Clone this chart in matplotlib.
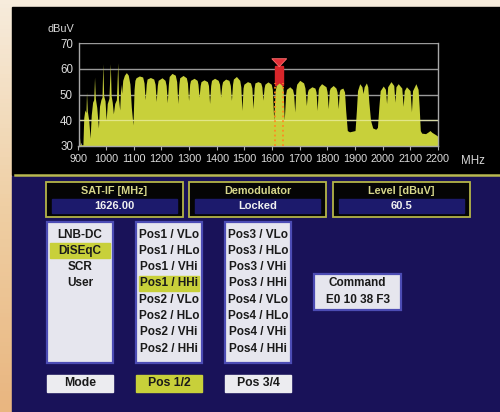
import numpy as np
import matplotlib.pyplot as plt
from matplotlib.patches import Rectangle, Polygon
from matplotlib.colors import LinearSegmentedColormap

# spectrum envelope (MHz, dBuV)
freq_mhz = [
    900, 903, 906, 916, 919, 923, 927, 929, 932, 937, 942, 946, 951, 955, 958, 961,
    966, 972, 976, 981, 985, 988, 991, 996, 1000, 1004, 1010, 1015, 1018, 1022, 1026,
    1031, 1037, 1042, 1045, 1049, 1053, 1056, 1060, 1066, 1073, 1080, 1086, 1091, 1097,
    1101, 1104, 1108, 1120, 1132, 1137, 1141, 1145, 1148, 1160, 1172, 1177, 1181, 1185,
    1188, 1202, 1213, 1217, 1221, 1225, 1228, 1238, 1250, 1255, 1259, 1263, 1266, 1278,
    1290, 1294, 1298, 1302, 1305, 1318, 1329, 1332, 1336, 1340, 1343, 1354, 1366, 1370,
    1374, 1378, 1381, 1392, 1405, 1410, 1414, 1418, 1421, 1432, 1444, 1449, 1453, 1457,
    1460, 1471, 1483, 1487, 1491, 1495, 1498, 1511, 1522, 1527, 1531, 1535, 1538, 1549,
    1559, 1563, 1567, 1571, 1574, 1585, 1597, 1601, 1606, 1611, 1615, 1626, 1636, 1640,
    1644, 1649, 1652, 1664, 1674, 1678, 1682, 1686, 1689, 1700, 1714, 1719, 1724, 1728,
    1731, 1744, 1755, 1759, 1763, 1767, 1770, 1779, 1795, 1799, 1803, 1807, 1810, 1821,
    1831, 1835, 1839, 1843, 1846, 1856, 1862, 1866, 1872, 1880, 1892, 1900, 1905, 1909,
    1917, 1925, 1929, 1933, 1941, 1946, 1950, 1956, 1964, 1975, 1981, 1986, 1991, 2002,
    2010, 2014, 2018, 2030, 2040, 2044, 2048, 2056, 2069, 2074, 2078, 2086, 2099, 2104,
    2108, 2120, 2128, 2132, 2136, 2141, 2155, 2165, 2171, 2178, 2190, 2197, 2200,
]
level_dbuv = [
    33.5, 34.0, 30.5, 30.5, 41.0, 44.0, 43.0, 51.0, 43.5, 40.0, 33.0, 42.0, 47.0, 48.0, 56.8, 48.5,
    45.0, 37.0, 45.5, 48.0, 49.0, 62.0, 49.5, 47.5, 40.0, 46.5, 48.5, 62.0, 49.5, 47.0, 42.5,
    46.5, 48.0, 62.4, 48.0, 44.0, 54.0, 50.5, 55.5, 57.5, 58.5, 57.5, 54.0, 45.0, 38.2,
    52.0, 55.5, 56.5, 57.2, 56.8, 54.5, 48.0, 54.0, 56.0, 56.6, 56.0, 54.0, 47.3, 53.5,
    55.5, 56.5, 55.5, 53.5, 46.8, 54.0, 57.0, 58.2, 57.5, 55.0, 46.5, 54.0, 56.5, 57.4,
    56.5, 54.5, 47.7, 54.0, 55.5, 56.3, 55.5, 54.0, 49.0, 53.5, 55.0, 55.7, 55.0, 53.5,
    46.5, 53.5, 55.5, 56.3, 55.5, 54.0, 49.0, 53.5, 55.0, 56.0, 55.5, 53.5, 47.7, 54.0,
    56.0, 57.0, 55.5, 53.0, 43.8, 52.5, 54.0, 55.0, 54.5, 52.5, 44.5, 52.5, 54.5, 55.0,
    54.5, 53.0, 47.8, 52.5, 54.0, 54.9, 54.0, 52.0, 40.0, 51.5, 53.5, 54.5, 53.5, 52.0,
    40.0, 50.0, 52.0, 53.0, 52.0, 50.0, 43.2, 52.0, 54.0, 55.5, 54.5, 52.5, 45.7, 51.0,
    52.0, 53.0, 52.5, 51.0, 43.8, 52.0, 53.0, 54.2, 53.0, 51.0, 44.5, 51.5, 52.5, 53.5,
    52.5, 51.0, 44.5, 51.0, 52.0, 52.5, 51.0, 44.0, 36.0, 35.5, 35.8, 36.0, 44.0, 51.5,
    54.2, 53.0, 50.4, 53.0, 54.5, 53.0, 47.0, 40.0, 37.0, 36.5, 37.2, 45.0, 51.5, 53.3,
    52.0, 46.5, 53.0, 55.0, 53.5, 47.0, 53.0, 54.2, 52.5, 45.4, 51.5, 53.0, 51.5, 43.3,
    51.5, 54.2, 52.0, 45.0, 36.0, 35.0, 34.8, 35.5, 36.0, 35.3, 34.5, 34.0, 33.5,
]

x_ticks = [900, 1000, 1100, 1200, 1300, 1400, 1500, 1600, 1700, 1800, 1900, 2000, 2100, 2200]
y_ticks = [30, 40, 50, 60, 70]

marker_freq = 1626.0   # SAT-IF
marker_level = 60.5    # dBuV
marker_bw = 30.0

header_titles = ['SAT-IF [MHz]', 'Demodulator', 'Level [dBuV]']
header_values = ['1626.00', 'Locked', '60.5']
mode_items = ['LNB-DC', 'DiSEqC', 'SCR', 'User']
pos12_items = ['Pos1 / VLo', 'Pos1 / HLo', 'Pos1 / VHi', 'Pos1 / HHi',
               'Pos2 / VLo', 'Pos2 / HLo', 'Pos2 / VHi', 'Pos2 / HHi']
pos34_items = ['Pos3 / VLo', 'Pos3 / HLo', 'Pos3 / VHi', 'Pos3 / HHi',
               'Pos4 / VLo', 'Pos4 / HLo', 'Pos4 / VHi', 'Pos4 / HHi']
command_lines = ['Command', 'E0 10 38 F3']
buttons = ['Mode', 'Pos 1/2', 'Pos 3/4']

FAM = ['Liberation Sans Narrow', 'Liberation Sans', 'DejaVu Sans']
YELLOW = '#c8d03a'
NAVY = '#191259'
BOX = '#e6e6ee'
BLUE_EDGE = '#4c4cb4'
GOLD_EDGE = '#b5b548'

fig = plt.figure(figsize=(5, 4.12), dpi=100)

# background in pixel coords
bg = fig.add_axes([0, 0, 1, 1])
grad = np.linspace(0, 1, 100).reshape(-1, 1)
cm = LinearSegmentedColormap.from_list('edge', ['#f7ecdc', '#efcfa4', '#e9b680'])
bg.imshow(grad, cmap=cm, extent=(0, 500, 412, 0), aspect='auto')
bg.add_patch(Rectangle((12, 7), 488, 168, color='black'))
bg.add_patch(Rectangle((12, 176), 488, 236, color=NAVY))
bg.plot([15, 500], [175, 175], color='#b8b850', lw=1.8)
bg.set_xlim(0, 500)
bg.set_ylim(412, 0)
bg.axis('off')

bg.text(47, 29, 'dBuV', color='#d8d8d8', fontsize=7.8, family=FAM, va='center')
bg.text(461, 161, 'MHz', color='#d8d8d8', fontsize=8.3, family=FAM, va='center')

# header boxes
hx = [46, 189, 333]
for x0, title, val in zip(hx, header_titles, header_values):
    bg.add_patch(Rectangle((x0, 182), 137, 35, facecolor='#050505', edgecolor=GOLD_EDGE, lw=1.3))
    bg.add_patch(Rectangle((x0 + 6, 199), 125, 14, color='#1c1a6c'))
    bg.text(x0 + 68.5, 191, title, color='#d6d68a', fontsize=7.8, family=FAM,
            weight='bold', ha='center', va='center')
    bg.text(x0 + 68.5, 205.5, val, color='#f0f0f0', fontsize=8, family=FAM,
            weight='bold', ha='center', va='center')


def list_box(x0, items, hl):
    bg.add_patch(Rectangle((x0, 222), 66, 141, facecolor=BOX, edgecolor=BLUE_EDGE, lw=1.6))
    for i, s in enumerate(items):
        yc = 234.5 + i * 16.3
        if i == hl:
            bg.add_patch(Rectangle((x0 + 3, yc - 7.5), 60, 15, color=YELLOW))
        bg.text(x0 + 33, yc, s, color='#1a1a1a', fontsize=8.5, family=FAM,
                weight='bold', ha='center', va='center')


list_box(47, mode_items, 1)
list_box(136, pos12_items, 3)
list_box(225, pos34_items, -1)

bg.add_patch(Rectangle((314, 274), 87, 36, facecolor=BOX, edgecolor=BLUE_EDGE, lw=1.6))
bg.text(357.5, 283.5, command_lines[0], color='#1a1a1a', fontsize=8.5, family=FAM,
        weight='bold', ha='center', va='center')
bg.text(357.5, 300, command_lines[1], color='#1a1a1a', fontsize=8.5, family=FAM,
        weight='bold', ha='center', va='center')

for x0, lab in zip([47, 136, 225], buttons):
    fc = YELLOW if lab == 'Pos 1/2' else '#ececf0'
    bg.add_patch(Rectangle((x0, 375), 66, 17, color=fc))
    bg.text(x0 + 33, 383.5, lab, color='#1a1a1a', fontsize=8.8, family=FAM,
            weight='bold', ha='center', va='center')

# spectrum
ax = fig.add_axes([78.5 / 500, 1 - 146 / 412, 359.5 / 500, 103 / 412])
ax.patch.set_alpha(0)
ax.set_xlim(900, 2200)
ax.set_ylim(30, 70)
for y in y_ticks[1:]:
    ax.axhline(y, color='#9a9a9a', lw=1.0, zorder=0.5)
ax.add_patch(Rectangle((marker_freq - marker_bw / 2, 53.5), marker_bw,
                       marker_level + 0.4 - 53.5, color='#d8262a', zorder=1))
ax.fill_between(freq_mhz, 30, level_dbuv, color=YELLOW, lw=0, zorder=2)
ax.axhline(40, color='#eef0a8', lw=0.9, alpha=0.7, zorder=2.5)
ax.vlines([marker_freq - marker_bw / 2, marker_freq + marker_bw / 2], 30, 54.5,
          colors='#ff8a20', linestyles=':', lw=1.3, zorder=3)
ax.add_patch(Polygon([(marker_freq - 27, marker_level + 3.4), (marker_freq + 27, marker_level + 3.4),
                      (marker_freq, marker_level + 0.3)], closed=True,
                     facecolor='#e23038', edgecolor='#ff7070', lw=0.6, zorder=4, clip_on=False))

for side in ['left', 'right', 'bottom']:
    ax.spines[side].set_color('#a8a8a8')
    ax.spines[side].set_linewidth(1.0)
ax.spines['top'].set_visible(False)

ax.set_xticks(x_ticks)
ax.set_xticks(np.arange(900, 2201, 10), minor=True)
ax.set_yticks(y_ticks)
ax.tick_params(axis='x', which='major', colors='#b0b0b0', length=3, width=0.8,
               labelcolor='#dcdcdc', labelsize=7.8, pad=3)
ax.tick_params(axis='x', which='minor', colors='#c0c0c0', length=2, width=0.5, direction='in')
ax.tick_params(axis='y', colors='#b0b0b0', length=0, labelcolor='#dcdcdc', labelsize=8.3, pad=4)
for lab in ax.get_xticklabels() + ax.get_yticklabels():
    lab.set_family(FAM)

fig.savefig('out.png', dpi=100)
